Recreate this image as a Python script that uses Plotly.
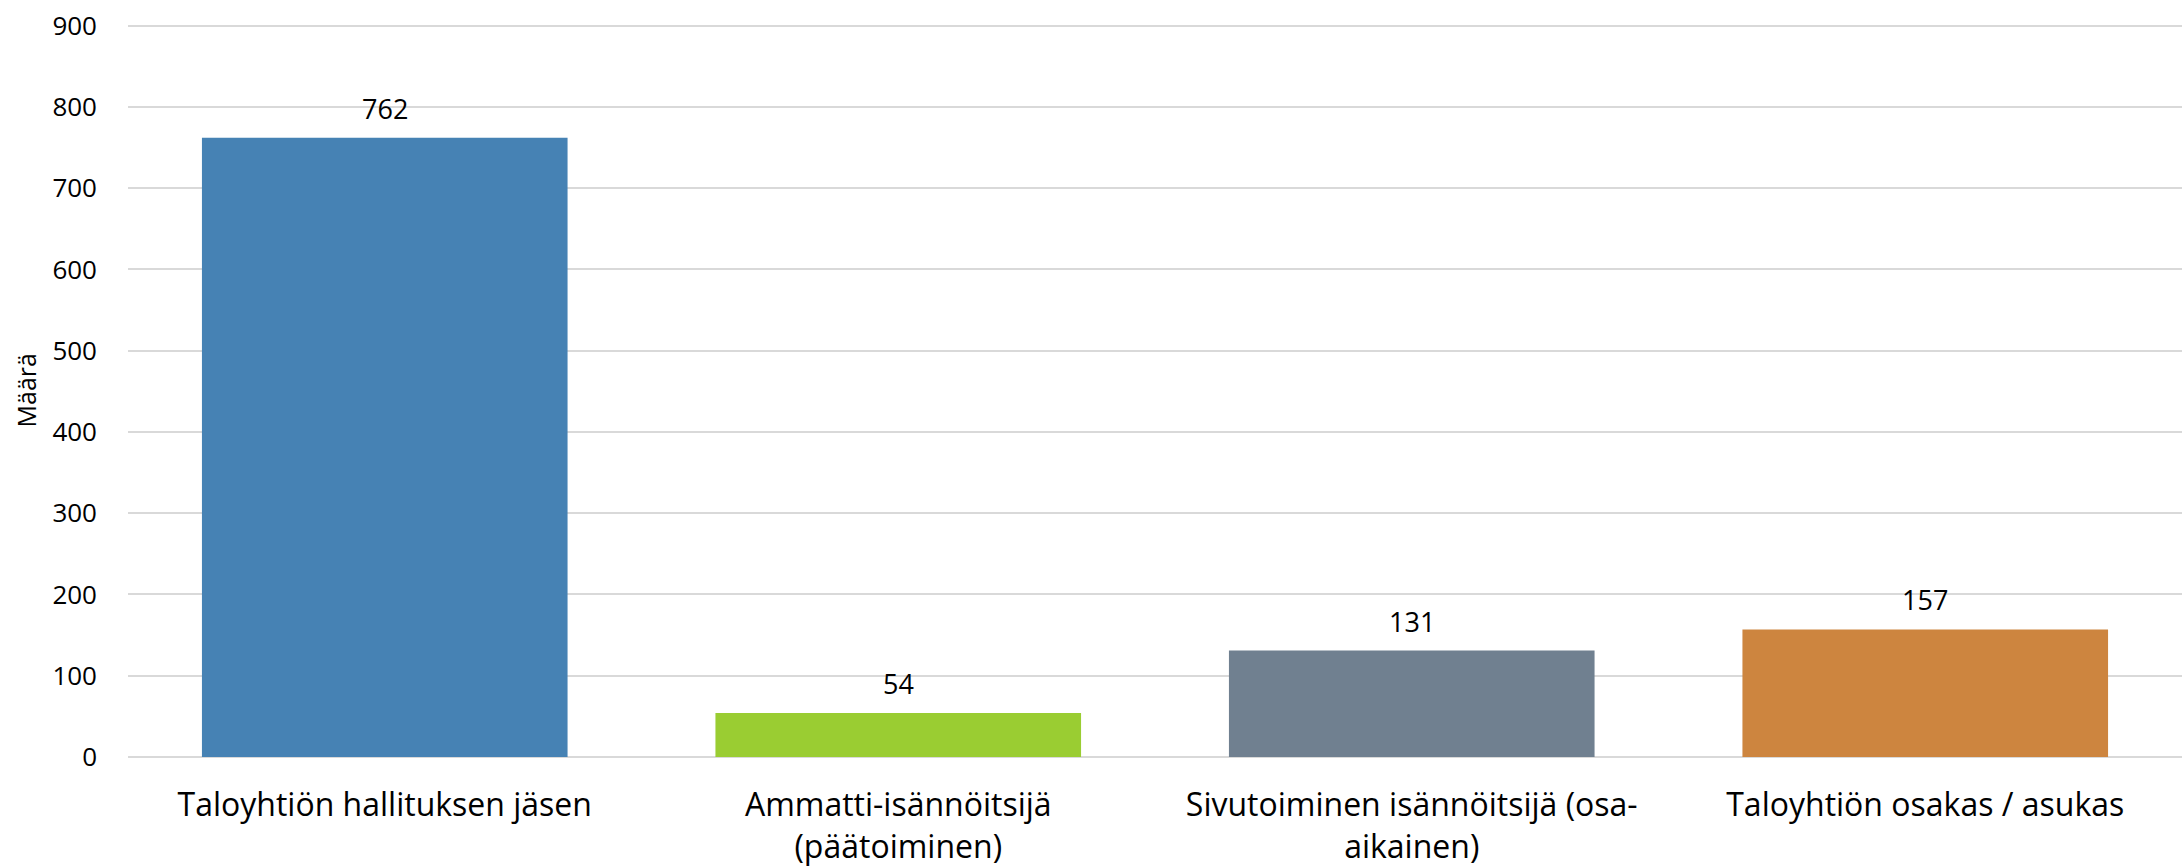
import plotly.graph_objects as go

categories = [
    "Taloyhtiön hallituksen jäsen",
    "Ammatti-isännöitsijä<br>(päätoiminen)",
    "Sivutoiminen isännöitsijä (osa-<br>aikainen)",
    "Taloyhtiön osakas / asukas",
]
values = [762, 54, 131, 157]
colors = ["#4682B4", "#9ACD32", "#708090", "#CD853F"]
y_ticks = [0, 100, 200, 300, 400, 500, 600, 700, 800, 900]
y_title = "Määrä"

FONT = "Open Sans"
W, H = 2182, 868
ml, mr, mt, mb = 128, 0, 24, 111

fig = go.Figure()
fig.add_trace(go.Bar(
    x=categories,
    y=values,
    marker=dict(color=colors, line=dict(width=0)),
    hoverinfo="x+y",
))

for c, v in zip(categories, values):
    fig.add_annotation(
        x=c, y=v, text=str(v), showarrow=False,
        yanchor="bottom", yshift=9,
        font=dict(family=FONT, size=27, color="#000000"),
    )

fig.add_annotation(
    x=(25 - ml) / (W - ml - mr),
    y=0.5,
    xref="paper", yref="paper", text=y_title,
    showarrow=False, textangle=-90,
    xanchor="center", yanchor="middle",
    font=dict(family=FONT, size=25, color="#000000"),
)

fig.update_layout(
    width=W, height=H,
    margin=dict(l=ml, r=mr, t=mt, b=mb, pad=0, autoexpand=False),
    paper_bgcolor="white",
    plot_bgcolor="white",
    bargap=0.288,
    showlegend=False,
    font=dict(family=FONT, color="#000000"),
    xaxis=dict(
        tickfont=dict(family=FONT, size=32, color="#000000"),
        showgrid=False, showline=False, ticks="",
        ticklabelstandoff=26,
        automargin=False,
    ),
    yaxis=dict(
        range=[0, 902],
        tickvals=y_ticks,
        ticktext=[str(t) for t in y_ticks],
        showgrid=True, gridcolor="#D9D9D9", gridwidth=2,
        zeroline=True, zerolinecolor="#D9D9D9", zerolinewidth=2,
        showline=False, ticks="",
        tickfont=dict(family=FONT, size=26, color="#000000"),
        ticklabelstandoff=30,
        automargin=False,
    ),
)

fig.write_html(
    "out.html",
    config={"displayModeBar": False},
    post_script="document.body.style.margin='0';",
)
